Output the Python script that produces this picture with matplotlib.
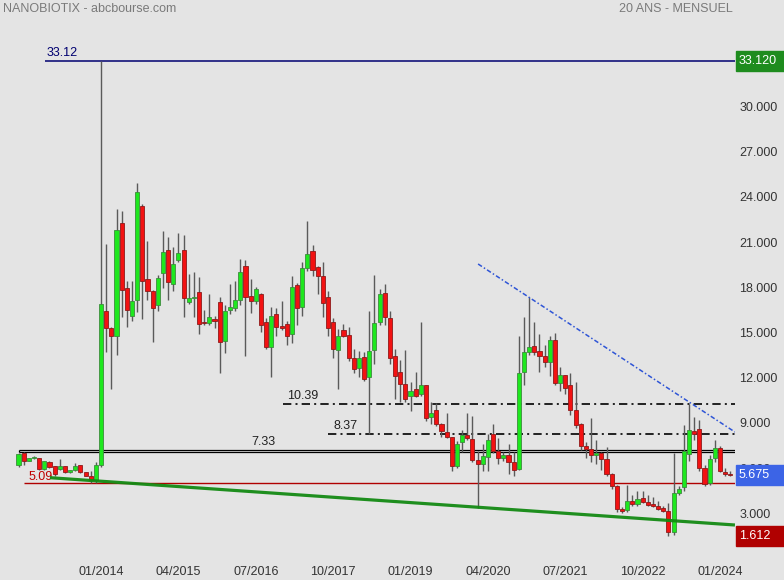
import matplotlib
matplotlib.use("Agg")

import numpy as np
import pandas as pd
import matplotlib.pyplot as plt
from matplotlib.patches import Rectangle

# ── data (monthly candles, first one = 09/2012) ──────────────────────────────
START_MONTH = "2012-09"

opens = [
    6.29, 7.10, 6.60, 6.80, 6.75, 6.06, 6.48, 6.22, 6.02, 6.22, 5.82, 5.95, 6.29, 5.82, 5.60, 5.31,
    6.29, 16.51, 15.38, 14.89, 22.37, 18.04, 16.18, 17.24, 23.48, 18.63, 17.84, 16.90, 19.07, 20.56,
    18.30, 19.93, 20.56, 17.12, 17.40, 17.77, 15.80, 15.72, 15.98, 17.11, 14.52, 16.58, 16.71, 17.24,
    19.50, 17.51, 17.18, 17.64, 15.78, 14.12, 16.31, 15.52, 15.65, 15.00, 18.24, 16.78, 19.37, 20.49,
    19.43, 18.83, 17.44, 15.78, 13.92, 15.25, 14.92, 13.39, 12.73, 13.46, 12.13, 13.92, 15.78, 17.71,
    16.05, 13.52, 12.46, 11.67, 10.87, 11.33, 11.00, 11.60, 9.48, 9.94, 9.01, 8.48, 8.15, 6.23,
    7.82, 8.28, 8.01, 6.62, 6.36, 6.82, 8.35, 7.22, 6.76, 6.96, 6.49, 6.03, 12.46, 13.79,
    14.19, 13.85, 13.52, 13.12, 14.58, 11.73, 12.26, 11.60, 9.94, 9.01, 7.55, 7.35, 6.95, 7.09,
    6.69, 5.69, 4.90, 3.37, 3.30, 3.90, 3.70, 4.10, 3.84, 3.70, 3.57, 3.44, 3.24, 1.89,
    4.43, 4.83, 7.02, 8.55, 8.68, 6.09, 5.10, 6.76, 7.42, 5.82, 5.72,
]
highs = [
    7.10, 7.15, 6.80, 6.88, 6.80, 6.60, 6.55, 6.25, 6.69, 6.25, 6.00, 6.42, 6.30, 5.85, 5.93, 6.53,
    33.12, 20.98, 15.45, 23.28, 23.17, 18.52, 18.52, 25.00, 23.63, 21.18, 17.90, 18.90, 21.84, 21.42,
    20.76, 21.71, 21.56, 18.98, 19.10, 18.77, 16.60, 17.64, 16.20, 17.44, 16.91, 18.30, 18.52, 19.96,
    19.90, 18.65, 18.10, 17.70, 16.05, 16.78, 16.70, 17.20, 15.90, 18.83, 18.40, 19.76, 22.48, 20.89,
    19.50, 19.80, 17.86, 16.05, 15.32, 15.65, 15.50, 14.00, 13.85, 13.80, 16.51, 18.92, 17.97, 18.30,
    16.50, 13.99, 13.26, 13.92, 11.80, 12.50, 15.78, 11.65, 10.50, 10.40, 9.10, 9.74, 8.20, 7.90,
    8.61, 9.74, 9.54, 7.22, 7.70, 8.40, 9.00, 8.10, 7.20, 7.70, 7.20, 14.85, 16.11, 17.44,
    15.78, 15.00, 14.30, 14.85, 15.10, 12.80, 12.30, 12.40, 11.80, 9.10, 7.84, 9.41, 8.00, 7.20,
    7.50, 5.80, 5.00, 3.50, 4.96, 4.30, 4.60, 4.60, 4.30, 4.20, 3.90, 3.60, 3.80, 7.13,
    4.90, 8.95, 10.39, 9.48, 9.30, 6.30, 7.00, 7.95, 7.60, 6.10, 5.90,
]
lows = [
    6.16, 6.30, 6.55, 6.72, 6.00, 6.00, 6.10, 5.60, 5.95, 5.78, 5.78, 5.90, 5.78, 5.55, 5.09, 5.12,
    6.20, 13.83, 11.34, 13.63, 16.15, 15.49, 15.90, 16.45, 15.98, 17.26, 14.50, 16.53, 18.08, 17.26,
    17.88, 19.80, 16.15, 17.00, 16.15, 15.03, 15.60, 15.60, 15.40, 12.44, 13.76, 16.31, 16.50, 16.91,
    13.57, 16.40, 17.00, 15.16, 14.00, 12.13, 14.90, 15.30, 14.30, 14.39, 15.60, 16.18, 19.17, 18.83,
    17.64, 16.11, 14.89, 13.42, 11.34, 14.80, 13.20, 12.40, 12.13, 11.90, 8.37, 13.00, 15.60, 15.60,
    13.00, 10.67, 10.47, 10.47, 9.92, 10.80, 10.90, 9.21, 9.00, 8.90, 8.20, 8.10, 5.93, 6.10,
    7.15, 8.00, 6.50, 3.44, 5.90, 5.90, 7.10, 6.40, 6.60, 5.70, 5.60, 5.95, 11.60, 13.60,
    13.60, 12.50, 12.80, 12.20, 11.60, 11.20, 11.00, 9.60, 8.80, 7.30, 6.80, 6.50, 6.40, 6.00,
    5.60, 4.70, 3.20, 3.15, 3.20, 3.60, 3.60, 3.80, 3.60, 3.50, 3.30, 3.20, 1.612, 1.65,
    4.30, 4.60, 6.60, 8.00, 5.90, 4.95, 5.00, 6.50, 5.85, 5.60, 5.60,
]
closes = [
    7.04, 6.60, 6.75, 6.82, 6.06, 6.55, 6.15, 5.69, 6.22, 5.82, 5.96, 6.22, 5.82, 5.60, 5.31, 6.33,
    16.97, 15.38, 14.89, 21.89, 17.90, 16.62, 17.17, 24.41, 18.50, 17.84, 16.71, 18.70, 20.42, 18.43,
    19.63, 20.36, 17.38, 17.38, 17.45, 15.65, 15.75, 16.11, 15.85, 14.45, 16.51, 16.78, 17.24, 19.10,
    17.44, 17.18, 17.97, 15.63, 14.12, 16.18, 15.45, 15.38, 14.85, 18.10, 16.71, 19.37, 20.30, 19.23,
    18.83, 17.04, 15.38, 13.99, 14.85, 14.85, 13.39, 12.66, 13.39, 12.00, 13.85, 15.72, 17.64, 16.11,
    13.39, 12.20, 11.67, 10.67, 11.20, 10.87, 11.60, 9.41, 9.74, 9.01, 8.55, 8.15, 6.23, 7.68,
    8.28, 8.08, 6.62, 6.36, 6.89, 7.95, 7.22, 6.76, 6.96, 6.49, 5.96, 12.40, 13.79, 14.12,
    13.79, 13.52, 13.12, 14.58, 11.73, 12.26, 11.40, 9.94, 8.95, 7.55, 7.35, 6.95, 7.09, 6.69,
    5.69, 4.90, 3.37, 3.28, 3.90, 3.70, 4.03, 3.84, 3.64, 3.57, 3.37, 3.24, 1.85, 4.43,
    4.70, 7.22, 8.61, 8.35, 6.09, 5.03, 6.69, 7.42, 5.90, 5.69, 5.675,
]

# price levels drawn on the chart
TOP_LEVEL   = 33.12
RES_HIGH    = 10.39
RES_LOW     = 8.37
BOX_TOP     = 7.33
BOX_BOTTOM  = 7.15
SUPPORT     = 5.09
LAST_PRICE  = 5.675
ALL_LOW     = 1.612

# trend lines as (candle index, price)
GREEN_TREND = [(6.1, 5.47), (138.9, 2.33)]
BLUE_TREND  = [(89.1, 19.65), (138.9, 8.50)]

Y_TICKS = [3, 6, 9, 12, 15, 18, 21, 24, 27, 30]

# ── style ─────────────────────────────────────────────────────────────────────
BG        = "#E4E4E4"
UP        = "#1EE81E"
UP_EDGE   = "#3C8C3C"
DOWN      = "#F21212"
DOWN_EDGE = "#8E1A1A"
WICK      = "#5A5A5A"
NAVY      = "#000070"
TXT       = "#333333"

plt.rcParams["font.family"] = ["Liberation Sans", "DejaVu Sans"]

months = pd.period_range(START_MONTH, periods=len(closes), freq="M")
idx = np.arange(len(closes))
o, h, l, c = map(np.array, (opens, highs, lows, closes))

fig = plt.figure(figsize=(7.84, 5.80), dpi=100, facecolor=BG)
ax = fig.add_axes([0, 25 / 580, 735 / 784, 535 / 580], facecolor=BG)
XMAX = 138.91
ax.set_xlim(-3.59, XMAX)
ax.set_ylim(0.34, 35.84)

# reference lines (behind candles)
ax.hlines(TOP_LEVEL, 5.14, XMAX, color=NAVY, lw=1.1, zorder=1)
ax.hlines([BOX_TOP, BOX_BOTTOM], 0.1, XMAX, color="black", lw=0.9, zorder=1)
ax.vlines(0.1, BOX_BOTTOM, BOX_TOP, color="black", lw=0.9, zorder=1)
ax.hlines(SUPPORT, 1.07, XMAX, color="#B00000", lw=1.0, zorder=1)
ax.plot([51.3, XMAX], [RES_HIGH] * 2, color="black", lw=1.2,
        ls=(0, (5, 2.5, 1.2, 2.5)), zorder=1)
ax.plot([60.0, XMAX], [RES_LOW] * 2, color="black", lw=1.2,
        ls=(0, (5, 2.5, 1.2, 2.5)), zorder=1)

# candles
up = c >= o
ax.vlines(idx, l, h, color=WICK, lw=1.0, zorder=2)
body_lo = np.minimum(o, c)
body_h = np.maximum(np.abs(c - o), 0.06)
ax.bar(idx[up], body_h[up], bottom=body_lo[up], width=0.8,
       color=UP, edgecolor=UP_EDGE, linewidth=0.6, zorder=3)
ax.bar(idx[~up], body_h[~up], bottom=body_lo[~up], width=0.8,
       color=DOWN, edgecolor=DOWN_EDGE, linewidth=0.6, zorder=3)

# trend lines (in front)
gx, gy = zip(*GREEN_TREND)
ax.plot(gx, gy, color="#138A13", lw=2.3, alpha=0.95, zorder=4, solid_capstyle="butt")
bx, by = zip(*BLUE_TREND)
ax.plot(bx, by, color="#2F55D6", lw=1.1, ls=(0, (3, 1.5, 1, 1.5)), zorder=4)

# level labels
ax.text(5.5, TOP_LEVEL + 0.12, f"{TOP_LEVEL:.2f}", color=NAVY, fontsize=9, va="bottom")
ax.text(52.0, RES_HIGH + 0.1, f"{RES_HIGH:.2f}", color="#222222", fontsize=9, va="bottom")
ax.text(61.0, RES_LOW + 0.1, f"{RES_LOW:.2f}", color="#222222", fontsize=9, va="bottom")
ax.text(45.2, BOX_TOP + 0.1, f"{BOX_TOP:.2f}", color="#222222", fontsize=9, va="bottom")
ax.text(2.0, SUPPORT + 0.05, f"{SUPPORT:.2f}", color="#C00000", fontsize=9, va="bottom")

# axes
for s in ax.spines.values():
    s.set_visible(False)
ax.yaxis.tick_right()
ax.set_yticks(Y_TICKS)
ax.set_yticklabels([f"{v:.3f}" for v in Y_TICKS], va="bottom")
tick_pos = idx[16::15]
ax.set_xticks(tick_pos)
ax.set_xticklabels([months[i].strftime("%m/%Y") for i in tick_pos])
ax.tick_params(axis="y", length=0, pad=3, labelsize=9, labelcolor=TXT)
ax.tick_params(axis="x", length=0, pad=8, labelsize=9, labelcolor=TXT)
for lab in ax.get_yticklabels():
    lab.set_va("center")
    lab.set_y(lab.get_position()[1])

# price tags on the right
def price_tag(value, face):
    y_frac = 25 / 580 + (value - 0.34) / (35.84 - 0.34) * 535 / 580
    fig.patches.append(Rectangle((736 / 784, y_frac - 10 / 580), 48 / 784, 20 / 580,
                                 transform=fig.transFigure, color=face, zorder=5))
    fig.text(739 / 784, y_frac, f"{value:.3f}", color="white", fontsize=9,
             va="center", ha="left", zorder=6)

price_tag(TOP_LEVEL, "#1E8C1E")
price_tag(LAST_PRICE, "#3C64E6")
price_tag(ALL_LOW, "#B00000")

fig.text(3 / 784, 1 - 9 / 580, "NANOBIOTIX - abcbourse.com", color="#7A7A7A",
         fontsize=9, va="center", ha="left")
fig.text(733 / 784, 1 - 9 / 580, "20 ANS - MENSUEL", color="#7A7A7A",
         fontsize=9, va="center", ha="right")

fig.savefig("out.png", dpi=100, facecolor=BG)
